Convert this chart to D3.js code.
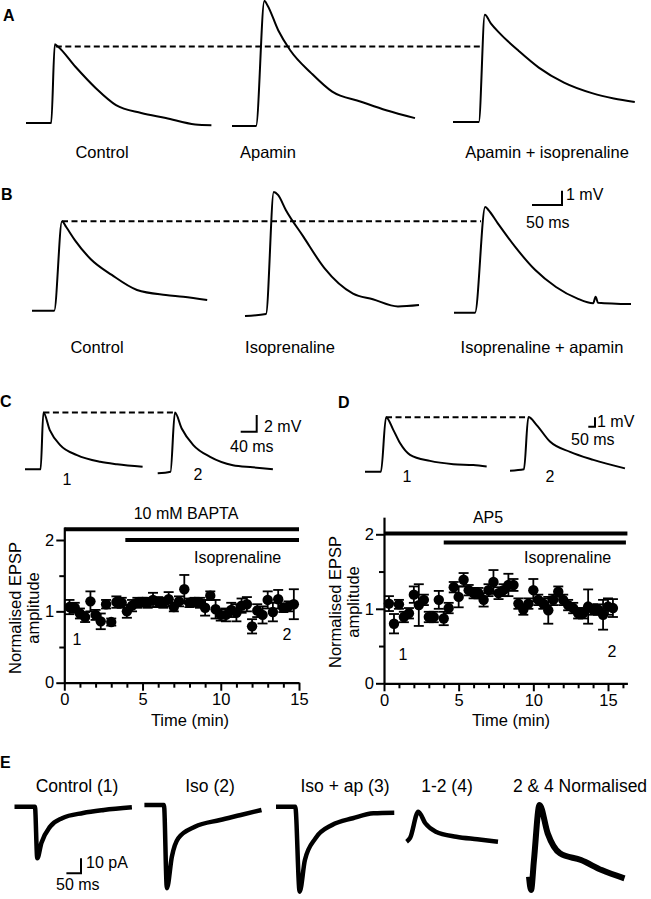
<!DOCTYPE html>
<html>
<head>
<meta charset="utf-8">
<script src="https://cdn.jsdelivr.net/npm/d3@7"></script>
<style>
  body { margin: 0; background: #fff; }
  text { font-family: "Liberation Sans", Arial, sans-serif; fill: #000; }
</style>
</head>
<body>
<script>
// ---- traces: [time (ms), amplitude relative to baseline] ----
// A (mV)
var aControl   = [[0,0],[42,0],[48,5.5],[53,5.35],[82,3.95],[116,2.45],[150,1.25],[192,0.7],[233,0.35],[282,-0.1],[309,-0.15]];
var aApamin    = [[0,0],[40,0],[54,8.75],[59,8.45],[77,6.7],[97,5.3],[132,3.7],[167,2.4],[215,1.7],[257,1.1],[305,0.55]];
var aApaminIso = [[0,0],[43,0],[53,7.5],[63,6.9],[78,6.2],[110,4.95],[143,3.8],[185,2.75],[233,2.0],[268,1.65],[303,1.4]];
// B (mV)
var bControl = [[0,0],[37,0],[50,6.25],[57,5.85],[72,4.9],[98,3.6],[133,2.5],[175,1.45],[223,1.1],[252,0.98],[292,0.75]];
var bIso     = [[0,-0.07],[35,0.07],[48,8.6],[55,8.4],[68,7.35],[97,5.5],[132,3.3],[180,1.5],[213,1.1],[255,0.6],[290,0.7]];
var bIsoAp   = [[0,0],[35,0],[52,7.4],[57,7.2],[73,6.25],[102,4.6],[135,3.0],[170,1.8],[205,1.0],[232,0.66],[236,1.12],[240,0.7],[295,0.6]];
// C, D (mV)
var cTrace1 = [[0,0],[39,0],[46,6.8],[62,4.7],[88,2.9],[130,1.7],[188,0.9],[230,0.6],[294,0.3]];
var cTrace2 = [[0,-0.07],[32,0.12],[43,7.2],[60,5.3],[89,3.3],[131,1.9],[188,0.9],[238,0.65],[288,0.4]];
var dTrace1 = [[0,0],[119,0],[157,5.8],[211,4.45],[261,3.05],[336,1.8],[485,1.15],[659,0.8],[808,0.7],[908,0.55]];
var dTrace2 = [[0,0],[104,0.15],[137,5.7],[199,4.85],[298,3.1],[448,2.0],[622,1.15],[858,0.25]];
// E (pA)
var eControl = [[0,0],[70,0],[78,-34.4],[92,-24.2],[122,-13.3],[163,-7.7],[235,-4.2],[306,-2.2],[402,-0.4]];
var eIso     = [[0,0],[67,0],[77,-55.5],[94,-34.5],[116,-22.2],[173,-14.5],[259,-10],[330,-6.7],[401,-3.3]];
var eIsoAp   = [[0,0],[66,0],[81,-56.7],[99,-35.5],[135,-21.1],[192,-12.2],[263,-7.7],[334,-4.4],[405,-4.0]];
var eDiff    = [[0,0],[12,2.5],[40,20],[64,12.3],[100,6.7],[170,3.3],[242,1.6],[313,0]];
var eNorm    = [[0,0],[7,-8.9],[17,11.1],[36,47.8],[64,28.9],[106,15.6],[178,11.1],[249,4.4],[327,-1.1]];

var labelsA = ["Control", "Apamin", "Apamin + isoprenaline"];
var labelsB = ["Control", "Isoprenaline", "Isoprenaline + apamin"];
var labelsE = ["Control (1)", "Iso (2)", "Iso + ap (3)", "1-2 (4)", "2 & 4 Normalised"];

// ---- time courses: normalised EPSP amplitude ----
var cTime = [0.33,0.67,1.0,1.33,1.67,2.0,2.33,2.67,3.0,3.33,3.67,4.0,4.33,4.67,5.0,5.33,5.67,6.0,6.33,6.67,7.0,7.33,7.67,8.0,8.33,8.67,9.0,9.33,9.67,10.0,10.33,10.67,11.0,11.33,11.67,12.0,12.33,12.67,13.0,13.33,13.67,14.0,14.33,14.67];
var cAmp  = [1.06,1.05,0.97,0.92,1.14,0.95,0.86,1.1,0.85,1.13,1.12,1.0,1.08,1.12,1.13,1.12,1.16,1.13,1.12,1.17,1.06,1.14,1.31,1.12,1.13,1.12,1.05,1.22,1.03,0.95,0.95,1.02,0.98,1.08,1.1,0.79,1.01,0.95,1.16,0.99,1.17,1.05,1.07,1.1];
var cErr  = [0.1,0.07,0.07,0.07,0.14,0.07,0.11,0.06,0.05,0.08,0.07,0.09,0.08,0.07,0.06,0.07,0.1,0.07,0.07,0.1,0.06,0.07,0.2,0.06,0.06,0.07,0.11,0.06,0.13,0.08,0.09,0.1,0.12,0.1,0.1,0.1,0.09,0.12,0.12,0.13,0.13,0.06,0.07,0.21];

var dTime = [0.33,0.67,1.0,1.33,1.67,2.0,2.33,2.67,3.0,3.33,3.67,4.0,4.33,4.67,5.0,5.33,5.67,6.0,6.33,6.67,7.0,7.33,7.67,8.0,8.33,8.67,9.0,9.33,9.67,10.0,10.33,10.67,11.0,11.33,11.67,12.0,12.33,12.67,13.0,13.33,13.67,14.0,14.33,14.67,15.0,15.33];
var dAmp  = [1.07,0.80,1.06,0.89,0.94,1.19,1.05,1.12,0.89,0.89,1.12,0.87,1.01,1.29,1.16,1.39,1.25,1.21,1.21,1.12,1.25,1.36,1.21,1.25,1.32,1.32,1.07,0.99,1.07,1.25,1.12,1.07,0.98,1.12,1.23,1.12,1.05,1.01,0.94,0.94,1.03,0.99,0.99,0.92,1.03,1.01];
var dErr  = [0.1,0.13,0.06,0.07,0.07,0.11,0.28,0.07,0.07,0.07,0.12,0.09,0.07,0.07,0.14,0.09,0.07,0.07,0.07,0.09,0.08,0.16,0.08,0.08,0.15,0.08,0.07,0.07,0.07,0.15,0.07,0.07,0.18,0.07,0.07,0.07,0.07,0.07,0.07,0.07,0.23,0.07,0.07,0.2,0.11,0.12];

// drug application bars: [label, from (min), to (min), level]
var cBars = [["10 mM BAPTA", 0, 15, 2.15], ["Isoprenaline", 3.9, 15, 2.0]];
var dBars = [["AP5", 0, 16.3, 2.01], ["Isoprenaline", 4.0, 16.2, 1.89]];


var W = 651, H = 899;
var svg = d3.select("body").append("svg")
    .attr("width", W)
    .attr("height", H);
svg.append("rect").attr("width", W).attr("height", H).attr("fill", "#fff");

var line = d3.line().curve(d3.curveMonotoneX);

// draw a trace; sx = px per ms, sy = px per unit
function trace(pts, x0, y0, sx, sy, w) {
  var x = d3.scaleLinear().domain([0, 1]).range([x0, x0 + sx]);
  var y = d3.scaleLinear().domain([0, 1]).range([y0, y0 - sy]);
  svg.append("path")
    .attr("d", line.x(function(d) { return x(d[0]); }).y(function(d) { return y(d[1]); })(pts))
    .attr("fill", "none")
    .attr("stroke", "#000")
    .attr("stroke-width", w || 2)
    .attr("stroke-linejoin", "round");
  return { x: x, y: y };
}

function dashed(x1, x2, y) {
  svg.append("line")
    .attr("x1", x1).attr("x2", x2).attr("y1", y).attr("y2", y)
    .attr("stroke", "#000").attr("stroke-width", 2)
    .attr("stroke-dasharray", "6,3.5");
}

function txt(s, x, y, size, anchor, bold) {
  return svg.append("text")
    .attr("x", x).attr("y", y)
    .attr("font-size", size)
    .attr("text-anchor", anchor || "start")
    .attr("font-weight", bold ? "bold" : "normal")
    .text(s);
}

// scale bar: corner at (cx, cy), horizontal goes left, vertical goes up
function scaleBar(cx, cy, hLen, vLen) {
  svg.append("path")
    .attr("d", "M" + (cx - hLen) + "," + cy + "H" + cx + "V" + (cy - vLen))
    .attr("fill", "none").attr("stroke", "#000").attr("stroke-width", 2);
}

function peakOf(pts) {
  return pts.reduce(function(a, b) { return b[1] > a[1] ? b : a; });
}

// ---- panel letters ----
txt("A", 3, 21, 16, "start", true);
txt("B", 1, 200, 16, "start", true);
txt("C", 0, 407, 16, "start", true);
txt("D", 338, 408, 16, "start", true);
txt("E", 0, 768, 16, "start", true);

// ---- A ----
var sxAB = 0.6, syAB = 14.3;
var tA1 = trace(aControl, 26, 123, sxAB, syAB);
var tA2 = trace(aApamin, 232, 126, sxAB, syAB);
var tA3 = trace(aApaminIso, 453, 122, sxAB, syAB);
dashed(tA1.x(peakOf(aControl)[0]) + 1, tA3.x(46.5), tA1.y(5.35));
[102, 268, 547].forEach(function(cx, i) { txt(labelsA[i], cx, 158, 16.5, "middle"); });

// ---- B ----
var tB1 = trace(bControl, 32, 310.7, sxAB, syAB);
var tB2 = trace(bIso, 245, 315, sxAB, syAB);
var tB3 = trace(bIsoAp, 454, 312.7, sxAB, syAB);
dashed(tB1.x(peakOf(bControl)[0]), tB3.x(45), tB1.y(peakOf(bControl)[1]));
scaleBar(562, 205, sxAB * 50, syAB * 1);
txt("1 mV", 566, 200, 16);
txt("50 ms", 526, 228, 16);
[97, 290, 542].forEach(function(cx, i) { txt(labelsB[i], cx, 353, 16.5, "middle"); });

// ---- C traces ----
var tC1 = trace(cTrace1, 25, 469.3, 0.4, 8.35);
var tC2 = trace(cTrace2, 157.7, 472.7, 0.4, 8.35);
dashed(tC1.x(peakOf(cTrace1)[0]), tC2.x(peakOf(cTrace2)[0]), tC1.y(peakOf(cTrace1)[1]));
scaleBar(256.7, 431.7, 0.4 * 40, 8.35 * 2);
txt("2 mV", 264, 432, 16);
txt("40 ms", 230, 452, 16);
txt("1", 67, 485, 16, "middle");
txt("2", 198, 480, 16, "middle");

// ---- D traces ----
var tD1 = trace(dTrace1, 365, 471.7, 0.134, 9.4);
var tD2 = trace(dTrace2, 510, 470.7, 0.134, 9.4);
dashed(tD1.x(peakOf(dTrace1)[0]), tD2.x(peakOf(dTrace2)[0]), tD1.y(peakOf(dTrace1)[1]));
scaleBar(595, 426.7, 0.134 * 50, 9.4 * 1);
txt("1 mV", 597, 427, 16);
txt("50 ms", 571, 445, 16);
txt("1", 407, 482, 16, "middle");
txt("2", 550, 482, 16, "middle");

// ---- time course plots ----
function timeCourse(o) {
  var x = d3.scaleLinear().domain([0, 15]).range(o.xr);
  var y = d3.scaleLinear().domain([0, 2]).range(o.yr);
  var g = svg.append("g");

  // axes
  g.append("g").attr("transform", "translate(0," + y(0) + ")")
    .call(d3.axisBottom(x.copy().domain([0, o.xMax]).range([x(0), x(o.xMax)]))
      .tickValues([0, 5, 10, 15]).tickFormat(d3.format("d"))
      .tickSize(8).tickSizeOuter(0).tickPadding(3));
  g.append("g").attr("transform", "translate(0," + y(0) + ")")
    .call(d3.axisBottom(x).tickValues(o.minorX).tickSize(5).tickFormat(""))
    .select(".domain").remove();
  g.append("g").attr("transform", "translate(" + x(0) + ",0)")
    .call(d3.axisLeft(y.copy().domain([0, o.yMax]).range([y(0), y(o.yMax)]))
      .tickValues([0, 1, 2]).tickFormat(d3.format("d"))
      .tickSize(8).tickSizeOuter(0).tickPadding(2));
  g.append("g").attr("transform", "translate(" + x(0) + ",0)")
    .call(d3.axisLeft(y).tickValues([0.5, 1.5]).tickSize(5).tickFormat(""))
    .select(".domain").remove();
  g.selectAll(".domain").attr("stroke-width", 2.2);
  g.selectAll(".tick line").attr("stroke-width", 2);
  g.selectAll(".tick text").attr("font-size", 16.5)
    .attr("font-family", "Liberation Sans, Arial, sans-serif");

  // drug bars
  o.bars.forEach(function(b) {
    g.append("line")
      .attr("x1", x(b[1])).attr("x2", x(b[2]))
      .attr("y1", y(b[3])).attr("y2", y(b[3]))
      .attr("stroke", "#000").attr("stroke-width", 4);
  });
  txt(o.bars[0][0], o.topLabel[0], o.topLabel[1], 16, "middle");
  txt(o.bars[1][0], o.isoLabel[0], o.isoLabel[1], 16, "start");

  // error bars
  var pts = o.time.map(function(t, i) { return [t, o.amp[i], o.err[i]]; });
  var eb = g.append("g").attr("stroke", "#000").attr("stroke-width", 1.8);
  pts.forEach(function(p) {
    var cx = x(p[0]);
    eb.append("line").attr("x1", cx).attr("x2", cx).attr("y1", y(p[1] - p[2])).attr("y2", y(p[1] + p[2]));
    eb.append("line").attr("x1", cx - 5).attr("x2", cx + 5).attr("y1", y(p[1] + p[2])).attr("y2", y(p[1] + p[2]));
    eb.append("line").attr("x1", cx - 5).attr("x2", cx + 5).attr("y1", y(p[1] - p[2])).attr("y2", y(p[1] - p[2]));
  });
  g.selectAll("circle.pt").data(pts).join("circle")
    .attr("class", "pt")
    .attr("cx", function(d) { return x(d[0]); })
    .attr("cy", function(d) { return y(d[1]); })
    .attr("r", 5.2)
    .attr("fill", "#000");

  // titles
  txt("Time (min)", o.xTitle, 726, 16.5, "middle");
  svg.append("text")
    .attr("transform", "translate(" + o.yTitle[0] + "," + o.yTitle[2] + ") rotate(-90)")
    .attr("font-size", 16.5).attr("text-anchor", "middle").text("Normalised EPSP");
  svg.append("text")
    .attr("transform", "translate(" + o.yTitle[1] + "," + o.yTitle[2] + ") rotate(-90)")
    .attr("font-size", 16.5).attr("text-anchor", "middle").text("amplitude");
  txt("1", o.marks[0], o.marks[1], 16, "middle");
  txt("2", o.marks[2], o.marks[3], 16, "middle");
}

timeCourse({
  xr: [64.3, 299], yr: [682.7, 540], xMax: 15, yMax: 2.18,
  minorX: [1,2,3,4,6,7,8,9,11,12,13,14],
  bars: cBars, topLabel: [186, 519], isoLabel: [194, 563],
  time: cTime, amp: cAmp, err: cErr,
  xTitle: 190, yTitle: [21, 39, 608],
  marks: [77, 645, 287, 640]
});

timeCourse({
  xr: [384, 608], yr: [683.3, 534.3], xMax: 16.3, yMax: 2.23,
  minorX: [1,2,3,4,6,7,8,9,11,12,13,14,16],
  bars: dBars, topLabel: [488, 523], isoLabel: [524, 563],
  time: dTime, amp: dAmp, err: dErr,
  xTitle: 511, yTitle: [341, 359, 602],
  marks: [403, 660, 612, 657]
});

// ---- E ----
var sxE = 0.292, syE = 1.5;
trace(eControl, 14.5, 806.7, sxE, syE, 4.5);
trace(eIso, 144.4, 805, sxE, syE, 4.5);
trace(eIsoAp, 276, 806.7, sxE, syE, 4.5);
trace(eDiff, 406.6, 841.7, sxE, syE, 4.5);
trace(eNorm, 529, 876.7, sxE, syE, 6);
scaleBar(81, 873.3, sxE * 50, syE * 10);
txt("10 pA", 86, 868, 16);
txt("50 ms", 56, 890, 16);
[77, 210, 345, 447, 580].forEach(function(cx, i) { txt(labelsE[i], cx, 792, 17.5, "middle"); });
</script>
</body>
</html>
